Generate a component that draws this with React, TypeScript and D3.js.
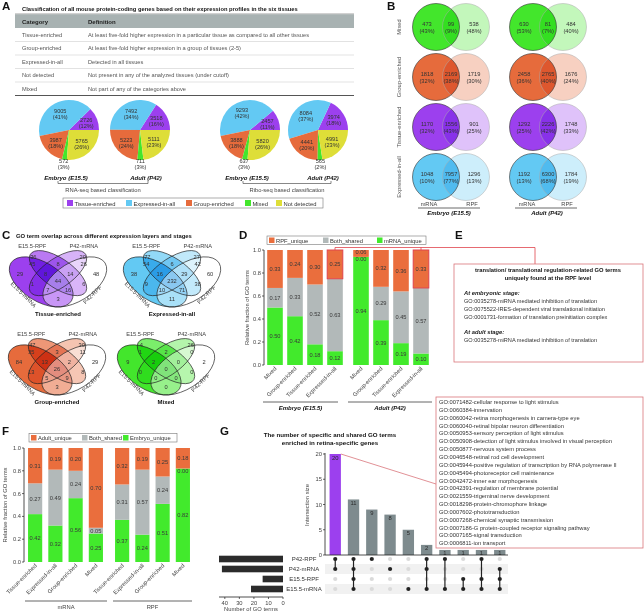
import React from "react";
import * as d3 from "d3";

const FONT = "'Liberation Sans', Arial, Helvetica, sans-serif";

// colours
const C_TISSUE = "#9c40ee";
const C_EXPR = "#63c9f3";
const C_GROUP = "#e66b3c";
const C_MIXED = "#43e62c";
const C_NOTDET = "#dede38";
const ORANGE = "#ea6e3d";
const GRAY = "#b2b9b9";
const GREEN = "#42ea2c";
const RED = "#e0444c";
const ROSE = "#d9757b";
const TXT = "#333";

// ---------------- Panel A data
const tableTitle =
  "Classification of all mouse protein-coding genes based on their expression profiles in the six tissues";
const tableCategories = ["Tissue-enriched", "Group-enriched", "Expressed-in-all", "Not detected", "Mixed"];
const tableDefinitions = [
  "At least five-fold higher expression in a particular tissue as compared to all other tissues",
  "At least five-fold higher expression in a group of tissues (2-5)",
  "Detected in all tissues",
  "Not present in any of the analyzed tissues (under cutoff)",
  "Not part of any of the categories above",
];

const pieCategories = ["Tissue-enriched", "Expressed-in-all", "Group-enriched", "Mixed", "Not detected"];
const pieColors = [C_TISSUE, C_EXPR, C_GROUP, C_MIXED, C_NOTDET];
const rnaEmbryoCounts = [2726, 9005, 3987, 572, 5765];
const rnaEmbryoPct = [12, 41, 18, 3, 26];
const rnaAdultCounts = [3518, 7492, 5223, 711, 5111];
const rnaAdultPct = [16, 34, 24, 3, 23];
const riboEmbryoCounts = [2457, 9293, 3888, 637, 5820];
const riboEmbryoPct = [11, 42, 18, 3, 26];
const riboAdultCounts = [3974, 8084, 4441, 565, 4991];
const riboAdultPct = [18, 37, 20, 2, 23];
const legendOrder = ["Tissue-enriched", "Expressed-in-all", "Group-enriched", "Mixed", "Not detected"];

// ---------------- Panel B data
const vennBRows = ["Mixed", "Group-enriched", "Tissue-enriched", "Expressed-in-all"];
const vennBColors = [C_MIXED, C_GROUP, C_TISSUE, C_EXPR];
const embryoVennCounts = [[473, 99, 538], [1818, 2169, 1719], [1170, 1556, 901], [1048, 7957, 1296]];
const embryoVennPct = [[43, 9, 48], [32, 38, 30], [32, 43, 25], [10, 77, 13]];
const adultVennCounts = [[630, 81, 484], [2458, 2765, 1676], [1292, 2226, 1748], [1192, 6300, 1784]];
const adultVennPct = [[53, 7, 40], [36, 40, 24], [25, 42, 33], [13, 68, 19]];

// ---------------- Panel C data  (order: A,B,C,D,AB,AC,AD,BC,BD,CD,ABC,ABD,ACD,BCD,ABCD)
// A = E15.5-mRNA, B = E15.5-RPF, C = P42-mRNA, D = P42-RPF
const quadTissue = [29, 36, 20, 48, 45, 1, 3, 8, 6, 26, 8, 16, 7, 14, 44];
const quadExpressed = [38, 77, 27, 60, 54, 9, 11, 6, 38, 42, 16, 71, 10, 29, 232];
const quadGroup = [84, 47, 30, 29, 35, 13, 3, 3, 8, 11, 13, 9, 5, 2, 26];
const quadMixed = [9, 4, 26, 2, 1, 0, 0, 2, 0, 0, 2, 0, 0, 0, 0];

// ---------------- Panel D data
const dCategories = ["Mixed", "Group-enriched", "Tissue-enriched", "Expressed-in-all"];
const dEmbryoMrna = [0.5, 0.42, 0.18, 0.12];
const dEmbryoBoth = [0.17, 0.33, 0.52, 0.63];
const dEmbryoRpf = [0.33, 0.24, 0.3, 0.25];
const dAdultMrna = [0.94, 0.39, 0.19, 0.1];
const dAdultBoth = [0.0, 0.29, 0.45, 0.57];
const dAdultRpf = [0.06, 0.32, 0.36, 0.33];

// ---------------- Panel E text
const eTitle = ["translation/ translational regulation-related GO terms", "uniquely found at the RPF level"];
const eEmbryoTerms = [
  "GO:0035278-miRNA mediated inhibition of translation",
  "GO:0075522-IRES-dependent viral translational initiation",
  "GO:0001731-formation of translation preinitiation complex",
];
const eAdultTerms = ["GO:0035278-miRNA mediated inhibition of translation"];

// ---------------- Panel F data
const fCategories = ["Tissue-enriched", "Expressed-in-all", "Group-enriched", "Mixed"];
const fMrnaEmbryo = [0.42, 0.32, 0.56, 0.25];
const fMrnaBoth = [0.27, 0.49, 0.24, 0.05];
const fMrnaAdult = [0.31, 0.19, 0.2, 0.7];
const fRpfEmbryo = [0.37, 0.24, 0.51, 0.82];
const fRpfBoth = [0.31, 0.57, 0.24, 0.0];
const fRpfAdult = [0.32, 0.19, 0.25, 0.18];

// ---------------- Panel G data
const gSets = ["P42-RPF", "P42-mRNA", "E15.5-RPF", "E15.5-mRNA"];
const gSetSizes = [44, 42, 14, 22];
const gIntersectionSizes = [20, 11, 9, 8, 5, 2, 1, 1, 1, 1];
const gIntersectionMembers = [[0, 1], [0, 1, 2, 3], [0], [1], [3], [0, 1, 3], [0, 3], [2, 3], [0, 2, 3], [1, 2, 3]];
const gTerms = [
  "GO:0071482-cellular response to light stimulus",
  "GO:0060384-innervation",
  "GO:0060042-retina morphogenesis in camera-type eye",
  "GO:0060040-retinal bipolar neuron differentiation",
  "GO:0050953-sensory perception of light stimulus",
  "GO:0050908-detection of light stimulus involved in visual perception",
  "GO:0050877-nervous system process",
  "GO:0046548-retinal rod cell development",
  "GO:0045944-positive regulation of transcription by RNA polymerase II",
  "GO:0045494-photoreceptor cell maintenance",
  "GO:0042472-inner ear morphogenesis",
  "GO:0042391-regulation of membrane potential",
  "GO:0021559-trigeminal nerve development",
  "GO:0018298-protein-chromophore linkage",
  "GO:0007602-phototransduction",
  "GO:0007268-chemical synaptic transmission",
  "GO:0007186-G protein-coupled receptor signaling pathway",
  "GO:0007165-signal transduction",
  "GO:0006811-ion transport",
];

const lighten = (c: string, t: number) => d3.interpolateRgb(c, "#ffffff")(t);
const f2 = d3.format(".2f");

function Letter({ x, y, t }: any) {
  return (
    <text x={x} y={y} fontSize={11.5} fontWeight="bold" fill="#111">
      {t}
    </text>
  );
}

// ---------------- Panel A
function Pie({ cx, cy, r, counts, pct }: any) {
  const arcs = d3.pie<number>().sort(null).startAngle(Math.PI / 2).endAngle(Math.PI / 2 - 2 * Math.PI)(counts);
  const arc = d3.arc<any>().innerRadius(0).outerRadius(r);
  return (
    <g>
      {arcs.map((a, i) => (
        <path key={i} d={arc(a) || ""} transform={`translate(${cx},${cy})`} fill={pieColors[i]} />
      ))}
      {arcs.map((a, i) => {
        const mid = (a.startAngle + a.endAngle) / 2;
        const rr = i === 3 ? r * 1.14 : r * 0.62;
        const x = cx + rr * Math.sin(mid);
        const y = cy - rr * Math.cos(mid);
        return (
          <text key={"l" + i} x={x} y={y} fontSize={5.6} fill={TXT} textAnchor="middle">
            <tspan x={x} dy={-1}>{counts[i]}</tspan>
            <tspan x={x} dy={6}>({pct[i]}%)</tspan>
          </text>
        );
      })}
    </g>
  );
}

function PanelA() {
  const rowY = d3.scaleBand<number>().domain(d3.range(tableCategories.length)).range([28, 95.5]);
  const bw = rowY.bandwidth();
  const legendX = d3.scaleOrdinal<string, number>().domain(legendOrder).range([67, 126, 186, 245, 276]);
  return (
    <g>
      <Letter x={2} y={10} t="A" />
      <text x={22} y={11} fontSize={5.75} fontWeight="bold" fill="#111">{tableTitle}</text>
      <line x1={15} x2={354} y1={14} y2={14} stroke="#666" strokeWidth={0.6} />
      <rect x={15} y={14.3} width={339} height={13.7} fill="#a8b2b2" />
      <text x={22} y={23.6} fontSize={6} fontWeight="bold" fill="#222">Category</text>
      <text x={88} y={23.6} fontSize={6} fontWeight="bold" fill="#222">Definition</text>
      {tableCategories.map((c, i) => {
        const last = i === tableCategories.length - 1;
        const y0 = rowY(i) as number;
        return (
          <g key={c}>
            <text x={22} y={y0 + bw / 2 + 2} fontSize={5.7} fill="#555">{c}</text>
            <text x={88} y={y0 + bw / 2 + 2} fontSize={5.7} fill="#555">{tableDefinitions[i]}</text>
            <line x1={15} x2={354} y1={y0 + bw} y2={y0 + bw} stroke={last ? "#555" : "#c4c4c4"} strokeWidth={last ? 1.2 : 0.5} />
          </g>
        );
      })}
      <Pie cx={69} cy={130} r={30} counts={rnaEmbryoCounts} pct={rnaEmbryoPct} />
      <Pie cx={140} cy={130} r={30} counts={rnaAdultCounts} pct={rnaAdultPct} />
      <Pie cx={250} cy={130} r={30} counts={riboEmbryoCounts} pct={riboEmbryoPct} />
      <Pie cx={318} cy={130} r={30} counts={riboAdultCounts} pct={riboAdultPct} />
      {[
        ["Embryo (E15.5)", 66],
        ["Adult (P42)", 146],
        ["Embryo (E15.5)", 247],
        ["Adult (P42)", 323],
      ].map(([t, x], i) => (
        <text key={i} x={x as number} y={180} fontSize={6} fontWeight="bold" fontStyle="italic" textAnchor="middle" fill="#111">
          {t}
        </text>
      ))}
      <path d="M58,181 V183.5 H148 V181" fill="none" stroke="#555" strokeWidth={0.7} />
      <path d="M243,181 V183.5 H331 V181" fill="none" stroke="#555" strokeWidth={0.7} />
      <text x={103} y={191.5} fontSize={5.8} textAnchor="middle" fill="#444">RNA-seq based classification</text>
      <text x={287} y={191.5} fontSize={5.8} textAnchor="middle" fill="#444">Ribo-seq based classification</text>
      <rect x={63} y={198} width={260} height={10} fill="#fff" stroke="#777" strokeWidth={0.6} />
      {legendOrder.map((c) => (
        <g key={c}>
          <rect x={legendX(c)} y={200} width={6} height={6} fill={pieColors[pieCategories.indexOf(c)]} />
          <text x={legendX(c) + 7.5} y={205.5} fontSize={5.8} fill="#333">{c}</text>
        </g>
      ))}
    </g>
  );
}

// ---------------- Panel B
function TwoVenn({ cxL, cxR, cy, r, color, counts, pct }: any) {
  const xs = [cxL - 9, (cxL + cxR) / 2, cxR + 8];
  return (
    <g>
      <circle cx={cxL} cy={cy} r={r} fill={color} />
      <circle cx={cxR} cy={cy} r={r} fill={lighten(color, 0.68)} style={{ mixBlendMode: "multiply" }} />
      <circle cx={cxR} cy={cy} r={r} fill="none" stroke="#aaa" strokeWidth={0.5} />
      <circle cx={cxL} cy={cy} r={r} fill="none" stroke="#333" strokeWidth={0.6} />
      {xs.map((x, i) => (
        <text key={i} x={x} y={cy} fontSize={5.7} fill={TXT} textAnchor="middle">
          <tspan x={x} dy={-1.5}>{counts[i]}</tspan>
          <tspan x={x} dy={7}>({pct[i]}%)</tspan>
        </text>
      ))}
    </g>
  );
}

function PanelB() {
  const rowY = d3.scalePoint<string>().domain(vennBRows).range([27, 177]);
  const r = 23.5;
  return (
    <g>
      <Letter x={387} y={10} t="B" />
      {vennBRows.map((row, i) => {
        const cy = rowY(row) as number;
        return (
          <g key={row}>
            <text transform={`translate(401,${cy}) rotate(-90)`} fontSize={5.8} fill="#555" textAnchor="middle">
              {row}
            </text>
            <TwoVenn cxL={436} cxR={466} cy={cy} r={r} color={vennBColors[i]} counts={embryoVennCounts[i]} pct={embryoVennPct[i]} />
            <TwoVenn cxL={533} cxR={563} cy={cy} r={r} color={vennBColors[i]} counts={adultVennCounts[i]} pct={adultVennPct[i]} />
          </g>
        );
      })}
      <text x={429} y={206} fontSize={5.7} fill="#444" textAnchor="middle">mRNA</text>
      <text x={472} y={206} fontSize={5.7} fill="#444" textAnchor="middle">RPF</text>
      <line x1={418} x2={480} y1={208} y2={208} stroke="#444" strokeWidth={0.8} />
      <text x={449} y={215} fontSize={6} fontWeight="bold" fontStyle="italic" textAnchor="middle" fill="#111">Embryo (E15.5)</text>
      <text x={527} y={206} fontSize={5.7} fill="#444" textAnchor="middle">mRNA</text>
      <text x={567} y={206} fontSize={5.7} fill="#444" textAnchor="middle">RPF</text>
      <line x1={515} x2={577} y1={208} y2={208} stroke="#444" strokeWidth={0.8} />
      <text x={547} y={215} fontSize={6} fontWeight="bold" fontStyle="italic" textAnchor="middle" fill="#111">Adult (P42)</text>
    </g>
  );
}

// ---------------- Panel C
const quadEllipses = [
  { x: 0.35, y: 0.53, rx: 0.35, ry: 0.2, rot: 45 },
  { x: 0.5, y: 0.43, rx: 0.33, ry: 0.15, rot: 45 },
  { x: 0.5, y: 0.43, rx: 0.33, ry: 0.15, rot: -45 },
  { x: 0.65, y: 0.53, rx: 0.35, ry: 0.2, rot: -45 },
];
// unit-space anchor of each region label, same order as the count arrays
const quadLabelPos = [
  [0.16, 0.44], [0.28, 0.25], [0.72, 0.25], [0.84, 0.44],
  [0.27, 0.33], [0.27, 0.55], [0.5, 0.72], [0.5, 0.33], [0.73, 0.55], [0.73, 0.33],
  [0.39, 0.44], [0.59, 0.62], [0.41, 0.62], [0.61, 0.44], [0.5, 0.52],
];

function QuadVenn({ cx, cy, counts, color, title }: any) {
  const sx = 112;
  const sy = 88;
  const px = (u: number) => cx + (u - 0.5) * sx;
  const py = (v: number) => cy + (v - 0.44) * sy;
  const fills = [color, lighten(color, 0.3), lighten(color, 0.6), "#ffffff"];
  const g = `translate(${cx - 0.5 * sx},${cy - 0.44 * sy}) scale(${sx},${sy})`;
  return (
    <g>
      <g transform={g}>
        {quadEllipses.map((e, i) => (
          <ellipse
            key={i}
            cx={e.x}
            cy={e.y}
            rx={e.rx}
            ry={e.ry}
            transform={`rotate(${e.rot} ${e.x} ${e.y})`}
            fill={fills[i]}
            fillOpacity={i === 3 ? 0.45 : 1}
            style={i === 1 || i === 2 ? { mixBlendMode: "multiply" } : undefined}
          />
        ))}
        {quadEllipses.map((e, i) => (
          <ellipse
            key={"s" + i}
            cx={e.x}
            cy={e.y}
            rx={e.rx}
            ry={e.ry}
            transform={`rotate(${e.rot} ${e.x} ${e.y})`}
            fill="none"
            stroke="#222"
            strokeWidth={0.7}
            vectorEffect="non-scaling-stroke"
          />
        ))}
      </g>
      {counts.map((n: number, i: number) => (
        <text key={i} x={px(quadLabelPos[i][0])} y={py(quadLabelPos[i][1]) + 2} fontSize={5.7} fill={TXT} textAnchor="middle">
          {n}
        </text>
      ))}
      <text x={px(0.27)} y={py(0.15)} fontSize={5.7} fill="#444" textAnchor="middle">E15.5-RPF</text>
      <text x={px(0.73)} y={py(0.15)} fontSize={5.7} fill="#444" textAnchor="middle">P42-mRNA</text>
      <text transform={`translate(${px(0.18)},${py(0.69)}) rotate(45)`} fontSize={5.7} fill="#444" textAnchor="middle">E15.5-mRNA</text>
      <text transform={`translate(${px(0.82)},${py(0.69)}) rotate(-45)`} fontSize={5.7} fill="#444" textAnchor="middle">P42-RPF</text>
      <text x={cx} y={py(0.915)} fontSize={6} fontWeight="bold" fill="#111" textAnchor="middle">{title}</text>
    </g>
  );
}

function PanelC() {
  return (
    <g>
      <Letter x={2} y={239} t="C" />
      <text x={16} y={238} fontSize={5.9} fontWeight="bold" fill="#111">
        GO term overlap across different expression layers and stages
      </text>
      <QuadVenn cx={58} cy={274} counts={quadTissue} color={C_TISSUE} title="Tissue-enriched" />
      <QuadVenn cx={172} cy={274} counts={quadExpressed} color={C_EXPR} title="Expressed-in-all" />
      <QuadVenn cx={57} cy={362} counts={quadGroup} color={C_GROUP} title="Group-enriched" />
      <QuadVenn cx={166} cy={362} counts={quadMixed} color={C_MIXED} title="Mixed" />
    </g>
  );
}

// ---------------- stacked bars (D, F)
function StackGroup({ cats, layers, colors, range, pIn, pOut, y, boxed, label, labelY, lineY, lineX }: any) {
  const x = d3.scaleBand<string>().domain(cats).range(range).paddingInner(pIn).paddingOuter(pOut);
  const rows = cats.map((c: string, i: number) => ({ c, a: layers[0][i], b: layers[1][i], t: layers[2][i] }));
  const series = d3.stack<any>().keys(["a", "b", "t"]).offset(d3.stackOffsetExpand)(rows);
  const bw = x.bandwidth();
  // nudge labels of empty or very thin segments apart so they do not collide
  const nudge = (v: number, k: number) => (v === 0 ? 2 : v < 0.1 && k === 2 ? -1.2 : 0);
  return (
    <g>
      {series.map((s, k) =>
        s.map((d, i) => (
          <rect key={k + "-" + i} x={x(cats[i])} y={y(d[1])} width={bw} height={y(d[0]) - y(d[1])} fill={colors[k]} />
        ))
      )}
      {series.map((s, k) =>
        s.map((d, i) => (
          <text key={"t" + k + "-" + i} x={(x(cats[i]) as number) + bw / 2} y={y((d[0] + d[1]) / 2) + 2 + nudge(layers[k][i], k)} fontSize={5.7} fill="#3a3a3a" textAnchor="middle">
            {f2(layers[k][i])}
          </text>
        ))
      )}
      {(boxed || []).map((i: number) => {
        const d = series[2][i];
        return <rect key={"b" + i} x={x(cats[i])} y={y(d[1])} width={bw} height={y(d[0]) - y(d[1])} fill="none" stroke={RED} strokeWidth={1} />;
      })}
      {cats.map((c: string) => (
        <text key={"x" + c} transform={`translate(${(x(c) as number) + bw / 2 + 2},${y(0) + 4}) rotate(-45)`} fontSize={5.7} fill="#444" textAnchor="end">
          {c}
        </text>
      ))}
      <line x1={lineX[0]} x2={lineX[1]} y1={lineY} y2={lineY} stroke="#555" strokeWidth={0.9} />
      <text x={(lineX[0] + lineX[1]) / 2} y={labelY} fontSize={label.bold ? 6 : 5.8} fontWeight={label.bold ? "bold" : "normal"} fontStyle={label.bold ? "italic" : "normal"} fill={label.bold ? "#111" : "#444"} textAnchor="middle">
        {label.text}
      </text>
    </g>
  );
}

function YAxis({ x, y, title, titleX }: any) {
  const ticks = [0, 0.2, 0.4, 0.6, 0.8, 1];
  const [y0, y1] = y.range();
  return (
    <g>
      <line x1={x} x2={x} y1={y1} y2={y0} stroke="#222" strokeWidth={0.8} />
      {ticks.map((t) => (
        <g key={t}>
          <line x1={x - 2} x2={x} y1={y(t)} y2={y(t)} stroke="#222" strokeWidth={0.7} />
          <text x={x - 3} y={y(t) + 2} fontSize={5.7} fill="#444" textAnchor="end">{d3.format(".1f")(t)}</text>
        </g>
      ))}
      <text transform={`translate(${titleX},${(y0 + y1) / 2}) rotate(-90)`} fontSize={5.8} fill="#444" textAnchor="middle">
        {title}
      </text>
    </g>
  );
}

function Legend({ x, y, w, items, colors, offsets }: any) {
  return (
    <g>
      <rect x={x} y={y} width={w} height={8.5} fill="#fff" stroke="#777" strokeWidth={0.6} />
      {items.map((t: string, i: number) => (
        <g key={t}>
          <rect x={x + offsets[i]} y={y + 1.5} width={5.5} height={5.5} fill={colors[i]} />
          <text x={x + offsets[i] + 7} y={y + 6.6} fontSize={5.8} fill="#333">{t}</text>
        </g>
      ))}
    </g>
  );
}

function PanelD() {
  const y = d3.scaleLinear().domain([0, 1]).range([365, 250]);
  const colors = [GREEN, GRAY, ORANGE];
  const xe = d3.scaleBand<string>().domain(dCategories).range([265, 345]).paddingInner(0.22).paddingOuter(0.11);
  const xa = d3.scaleBand<string>().domain(dCategories).range([351, 431]).paddingInner(0.22).paddingOuter(0.11);
  const ce = (xe("Expressed-in-all") as number) + xe.bandwidth() / 2;
  const ca = (xa("Expressed-in-all") as number) + xa.bandwidth() / 2;
  return (
    <g>
      <Letter x={239} y={239} t="D" />
      <Legend x={267} y={236} w={159} items={["RPF_unique", "Both_shared", "mRNA_unique"]} colors={[ORANGE, GRAY, GREEN]} offsets={[2, 56, 110]} />
      <path d={`M${ce},${y(1)} V247.5 H535 V264 M${ca},${y(1)} V247.5`} fill="none" stroke={RED} strokeWidth={0.8} />
      <YAxis x={264} y={y} title="Relative fraction of GO terms" titleX={249} />
      <StackGroup cats={dCategories} layers={[dEmbryoMrna, dEmbryoBoth, dEmbryoRpf]} colors={colors} range={[265, 345]} pIn={0.22} pOut={0.11} y={y} boxed={[3]} label={{ text: "Embryo (E15.5)", bold: true }} labelY={410} lineY={402} lineX={[263, 338]} />
      <StackGroup cats={dCategories} layers={[dAdultMrna, dAdultBoth, dAdultRpf]} colors={colors} range={[351, 431]} pIn={0.22} pOut={0.11} y={y} boxed={[3]} label={{ text: "Adult (P42)", bold: true }} labelY={410} lineY={402} lineX={[348, 432]} />
    </g>
  );
}

function PanelE() {
  return (
    <g>
      <Letter x={455} y={239} t="E" />
      <rect x={454} y={264} width={189} height={98} fill="none" stroke={ROSE} strokeWidth={0.8} />
      {eTitle.map((t, i) => (
        <text key={t} x={548} y={272 + i * 7.8} fontSize={5.8} fontWeight="bold" fill="#111" textAnchor="middle">{t}</text>
      ))}
      <text x={464} y={295} fontSize={5.8} fontWeight="bold" fontStyle="italic" fill="#222">At embryonic stage:</text>
      {eEmbryoTerms.map((t, i) => (
        <text key={t} x={464} y={302.5 + i * 8.3} fontSize={5.6} fill="#333">{t}</text>
      ))}
      <text x={464} y={334} fontSize={5.8} fontWeight="bold" fontStyle="italic" fill="#222">At adult stage:</text>
      {eAdultTerms.map((t, i) => (
        <text key={t} x={464} y={342 + i * 8.3} fontSize={5.6} fill="#333">{t}</text>
      ))}
    </g>
  );
}

function PanelF() {
  const y = d3.scaleLinear().domain([0, 1]).range([562, 448]);
  const colors = [GREEN, GRAY, ORANGE];
  return (
    <g>
      <Letter x={2} y={435} t="F" />
      <Legend x={29} y={433.5} w={148} items={["Adult_unique", "Both_shared", "Embryo_unique"]} colors={[ORANGE, GRAY, GREEN]} offsets={[2, 53, 94]} />
      <YAxis x={24} y={y} title="Relative fraction of GO terms" titleX={7} />
      <StackGroup cats={fCategories} layers={[fMrnaEmbryo, fMrnaBoth, fMrnaAdult]} colors={colors} range={[25, 106]} pIn={0.3} pOut={0.15} y={y} label={{ text: "mRNA", bold: false }} labelY={609} lineY={601} lineX={[25, 107]} />
      <StackGroup cats={fCategories} layers={[fRpfEmbryo, fRpfBoth, fRpfAdult]} colors={colors} range={[112, 193]} pIn={0.3} pOut={0.15} y={y} label={{ text: "RPF", bold: false }} labelY={609} lineY={601} lineX={[113, 192]} />
    </g>
  );
}

function PanelG() {
  const cols = d3.range(gIntersectionSizes.length).map(String);
  const x = d3.scaleBand<string>().domain(cols).range([325, 510]).paddingInner(0.38).paddingOuter(0.25);
  const y = d3.scaleLinear().domain([0, 20]).range([555, 454]);
  const row = d3.scaleBand<string>().domain(gSets).range([554, 594]);
  const rc = (s: string) => (row(s) as number) + row.bandwidth() / 2;
  const sx = d3.scaleLinear().domain([0, 44]).range([283, 219]);
  const bw = x.bandwidth();
  const cx = (i: number) => (x(String(i)) as number) + bw / 2;
  return (
    <g>
      <Letter x={220} y={435} t="G" />
      <text x={330} y={437} fontSize={6.2} fontWeight="bold" fill="#111" textAnchor="middle">The number of specific and shared GO terms</text>
      <text x={330} y={445} fontSize={6.2} fontWeight="bold" fill="#111" textAnchor="middle">enriched in retina-specific genes</text>
      {/* intersection bars */}
      {gIntersectionSizes.map((v, i) => (
        <g key={i}>
          <rect x={x(String(i))} y={y(v)} width={bw} height={y(0) - y(v)} fill={i === 0 ? C_TISSUE : "#7e8b8e"} />
          <text x={cx(i)} y={y(v) + 5.5} fontSize={5.8} fill="#2a2a2a" textAnchor="middle">{v}</text>
        </g>
      ))}
      <line x1={325} x2={325} y1={453} y2={555} stroke="#222" strokeWidth={0.8} />
      <line x1={325} x2={508} y1={555} y2={555} stroke="#222" strokeWidth={0.8} />
      {[0, 5, 10, 15, 20].map((t) => (
        <g key={t}>
          <line x1={323} x2={325} y1={y(t)} y2={y(t)} stroke="#222" strokeWidth={0.7} />
          <text x={322} y={y(t) + 2} fontSize={5.8} fill="#444" textAnchor="end">{t}</text>
        </g>
      ))}
      <text transform={`translate(309,505) rotate(-90)`} fontSize={5.8} fill="#444" textAnchor="middle">Intersection size</text>
      {/* red link to GO list */}
      <line x1={(x("0") as number) + bw} y1={y(20)} x2={436} y2={484} stroke={ROSE} strokeWidth={0.8} />
      <rect x={436} y={397} width={207} height={151} fill="#fff" stroke={ROSE} strokeWidth={0.8} />
      {gTerms.map((t, i) => (
        <text key={t} x={439} y={404 + i * 7.85} fontSize={5.75} fill="#333">{t}</text>
      ))}
      {/* matrix */}
      {gSets.map((s, k) =>
        k % 2 === 1 ? <rect key={"sh" + s} x={325} y={row(s)} width={183} height={row.bandwidth()} fill="#f1f1f1" /> : null
      )}
      {gSets.map((s) => (
        <text key={"n" + s} x={304} y={rc(s) + 2} fontSize={6} fill="#333" textAnchor="middle">{s}</text>
      ))}
      {gIntersectionMembers.map((m, i) =>
        gSets.map((s, k) => (
          <circle key={i + "-" + k} cx={cx(i)} cy={rc(s)} r={2.1} fill={m.includes(k) ? "#222" : "#dadada"} />
        ))
      )}
      {gIntersectionMembers.map((m, i) =>
        m.length > 1 ? (
          <line key={"ml" + i} x1={cx(i)} x2={cx(i)} y1={rc(gSets[d3.min(m) as number])} y2={rc(gSets[d3.max(m) as number])} stroke="#222" strokeWidth={1.2} />
        ) : null
      )}
      {/* set size bars */}
      {gSets.map((s, k) => (
        <rect key={"sb" + s} x={sx(gSetSizes[k])} y={rc(s) - 3.3} width={sx(0) - sx(gSetSizes[k])} height={6.6} fill="#2b2b2b" />
      ))}
      <line x1={sx(44)} x2={sx(0)} y1={597} y2={597} stroke="#222" strokeWidth={0.8} />
      {[0, 10, 20, 30, 40].map((t) => (
        <g key={"st" + t}>
          <line x1={sx(t)} x2={sx(t)} y1={597} y2={599} stroke="#222" strokeWidth={0.7} />
          <text x={sx(t)} y={604.5} fontSize={5.8} fill="#444" textAnchor="middle">{t}</text>
        </g>
      ))}
      <text x={251} y={611} fontSize={5.8} fill="#444" textAnchor="middle">Number of GO terms</text>
    </g>
  );
}

export default function App() {
  return (
    <svg
      width={644}
      height={612}
      viewBox="0 0 644 612"
      fontFamily={FONT}
      style={{ position: "absolute", left: 0, top: 0, background: "#fff" }}
    >
      <rect width={644} height={612} fill="#fff" />
      <PanelA />
      <PanelB />
      <PanelC />
      <PanelD />
      <PanelE />
      <PanelF />
      <PanelG />
    </svg>
  );
}
